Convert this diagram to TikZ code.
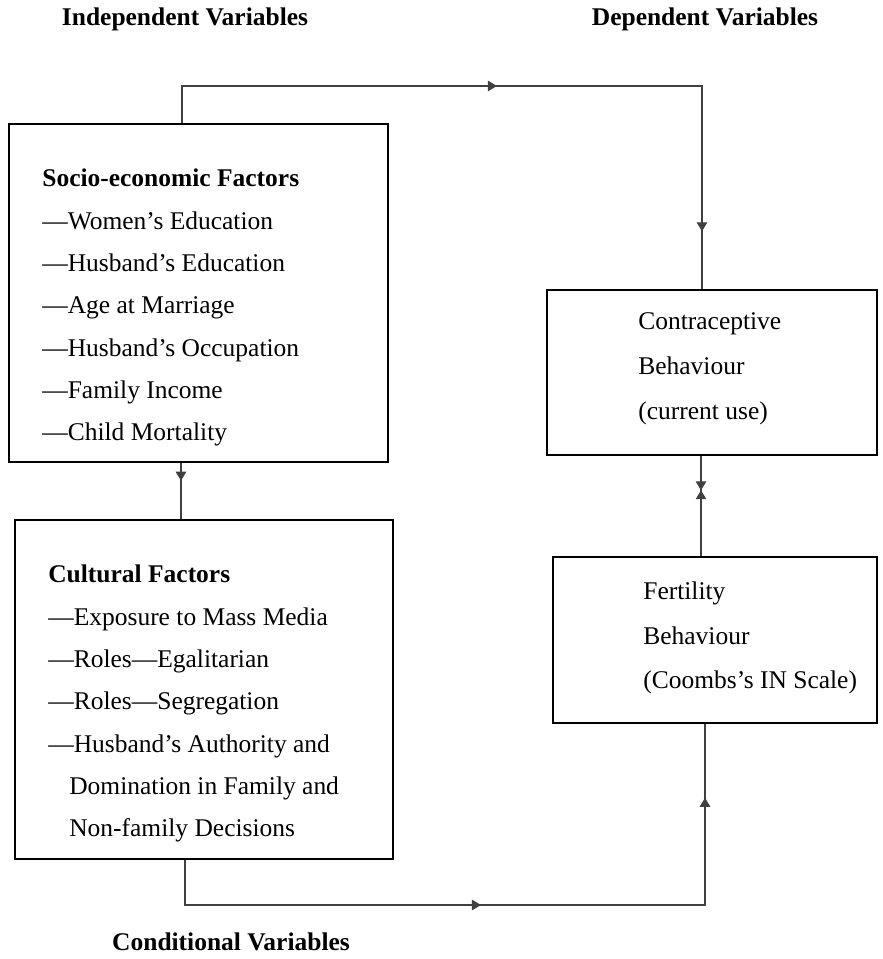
\documentclass[tikz,border=0pt]{standalone}
\usepackage{fontspec}
\setmainfont{Liberation Serif}
\usetikzlibrary{arrows.meta,decorations.markings}

\begin{document}
\begin{tikzpicture}[x=0.02cm,y=-0.02cm,
  box/.style={draw,line width=1.1pt,inner sep=0pt},
  txt/.style={inner sep=0pt,align=left,anchor=north west,font=\fontsize{14.5pt}{24.1pt}\selectfont},
  rtxt/.style={txt,font=\fontsize{14.5pt}{25.6pt}\selectfont},
  head/.style={inner sep=0pt,anchor=base,font=\fontsize{14.5pt}{17pt}\selectfont\bfseries},
  link/.style={line width=0.6pt,draw=black!75},
  arr/.style={postaction={decorate},decoration={markings,
    mark=at position #1 with {\arrow{Triangle[length=5.1pt,width=6pt]}}}},
  arrtwo/.style 2 args={postaction={decorate},decoration={markings,
    mark=at position #1 with {\arrow{Triangle[length=5.1pt,width=6pt]}},
    mark=at position #2 with {\arrow{Triangle[length=5.1pt,width=6pt]}}}},
  arrmeet/.style={postaction={decorate},decoration={markings,
    mark=at position #1 with {\arrow{Triangle[length=5.1pt,width=6pt]}\arrowreversed{Triangle[length=5.1pt,width=6pt]}}}}]
  \useasboundingbox (0,0) rectangle (882,959);

  \node[head] (indep) at (185,26) {Independent Variables};
  \node[head] (dep) at (705,26) {Dependent Variables};
  \node[head] (cond) at (231,950) {Conditional Variables};

  \node[box,minimum width=7.58cm,minimum height=6.76cm] (soc) at (198.5,293) {};
  \node[txt] (soctxt) at (42,168.8) {\textbf{Socio-economic Factors}\\—Women’s Education\\—Husband’s Education\\—Age at Marriage\\—Husband’s Occupation\\—Family Income\\—Child Mortality};

  \node[box,minimum width=7.56cm,minimum height=6.78cm] (cul) at (204,689.5) {};
  \node[txt] (cultxt) at (48,564.8) {\textbf{Cultural Factors}\\—Exposure to Mass Media\\—Roles—Egalitarian\\—Roles—Segregation\\—Husband’s Authority and\\\hspace*{0.42cm}Domination in Family and\\\hspace*{0.42cm}Non-family Decisions};

  \node[box,minimum width=6.6cm,minimum height=3.3cm] (con) at (712,372.5) {};
  \node[rtxt] (context) at (638,312) {Contraceptive\\Behaviour\\(current use)};

  \node[box,minimum width=6.48cm,minimum height=3.32cm] (fer) at (715,640) {};
  \node[rtxt] (fertxt) at (643,581) {Fertility\\Behaviour\\(Coombs’s IN Scale)};

  \coordinate (tl) at (182,86);
  \coordinate (tr) at (702,86);
  \draw[link,arrtwo={0.463}{0.924}] (tl |- soc.north) -- (tl) -- (tr) -- (tr |- con.north);

  \coordinate (sc) at (181,490);
  \draw[link,arr=0.316] (sc |- soc.south) -- (sc |- cul.north);

  \coordinate (cf) at (701,500);
  \draw[link,arrmeet=0.343] (cf |- con.south) -- (cf |- fer.north);

  \coordinate (bl) at (185,905);
  \coordinate (br) at (705,905);
  \draw[link,arrtwo={0.457}{0.901}] (bl |- cul.south) -- (bl) -- (br) -- (br |- fer.south);
\end{tikzpicture}
\end{document}
